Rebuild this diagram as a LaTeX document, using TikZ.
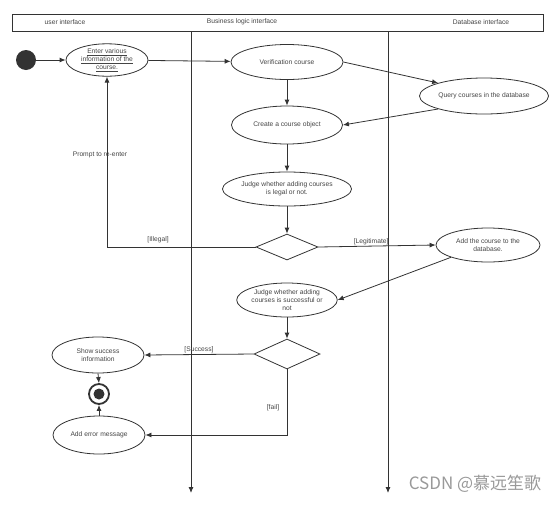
\documentclass[tikz,border=0pt]{standalone}
\usepackage{fontspec}
\setmainfont{Liberation Sans}
\newfontfamily\cjk{Noto Sans CJK SC}
\usetikzlibrary{shapes.geometric,arrows.meta}
\definecolor{ln}{HTML}{333333}
\definecolor{tx}{HTML}{444444}
\begin{document}
\begin{tikzpicture}[x=1pt,y=-1pt,
  every node/.style={font=\fontsize{6.7}{8}\selectfont, text=tx},
  act/.style={draw=ln, line width=0.8pt, ellipse, inner sep=0pt, align=center},
  dec/.style={draw=ln, line width=0.8pt, diamond, inner sep=0pt},
  arr/.style={draw=ln, line width=0.8pt, -{Latex[length=6pt,width=5pt]}},
  lane/.style={draw=ln, line width=0.9pt, -{Latex[length=6pt,width=5pt]}},
  lbl/.style={inner sep=1pt}]
\useasboundingbox (0,0) rectangle (554,504);
% header
\node[draw=ln, line width=1pt, minimum width=531pt, minimum height=17pt, inner sep=0pt, anchor=north west] (hdr) at (12,14) {};
\node (h1) at (65,22) {user interface};
\node (h2) at (242,22) {Business logic interface};
\node (h3) at (481,22) {Database interface};
\coordinate (l1t) at (191,31); \coordinate (l1b) at (191,493);
\coordinate (l2t) at (388,31); \coordinate (l2b) at (388,493);
\draw[lane] (l1t) -- (l1b);
\draw[lane] (l2t) -- (l2b);
% nodes
\node[circle, fill=ln, minimum size=20pt, inner sep=0pt] (start) at (26,60) {};
\node[act, minimum width=82pt, minimum height=31pt] (enter) at (107,60) {\underline{Enter various}\\\underline{information of the}\\\underline{course.}};
\node[act, minimum width=112pt, minimum height=35pt] (ver) at (287,62) {Verification course};
\node[act, minimum width=108pt, minimum height=36pt] (query) at (484,96) {Query courses in the database};
\node[act, minimum width=111pt, minimum height=38pt] (create) at (287,125) {Create a course object};
\node[act, minimum width=113pt, minimum height=34pt] (judge1) at (287,189) {Judge whether adding courses\\is legal or not.};
\node[dec, minimum width=62pt, minimum height=26pt] (d1) at (287,247) {};
\node[act, minimum width=104pt, minimum height=34pt] (add) at (488,245) {Add the course to the\\database.};
\node[act, minimum width=98pt, minimum height=34pt] (judge2) at (287,300) {Judge whether adding\\courses is successful or\\not};
\node[dec, minimum width=66pt, minimum height=30pt] (d2) at (287,354) {};
\node[act, minimum width=92pt, minimum height=36pt] (succ) at (98,355) {Show success\\information};
\node[circle, draw=ln, line width=1.8pt, minimum size=20pt, inner sep=0pt] (end) at (99,394) {};
\node[circle, fill=ln, minimum size=11pt, inner sep=0pt] (endin) at (99,394) {};
\node[act, minimum width=92pt, minimum height=38pt] (err) at (99,435) {Add error message};
% connectors
\draw[arr] (start) -- (enter);
\draw[arr] (enter) -- (ver);
\draw[arr] (ver.east) -- (query.north west);
\draw[arr] (ver) -- (create);
\draw[arr] (query.south west) -- (create.east);
\draw[arr] (create) -- (judge1);
\draw[arr] (judge1) -- (d1);
\draw[arr] (d1.east) -- node[lbl, above, pos=0.45] {[Legitimate]} (add.west);
\draw[arr] (d1.west) -| (enter.south);
\node[lbl] (illegal) at (158,240) {[Illegal]};
\node[lbl] (prompt) at (100,155) {Prompt to re-enter};
\draw[arr] (add.south west) -- (judge2.east);
\draw[arr] (judge2) -- (d2);
\draw[arr] (d2.west) -- node[lbl, above, pos=0.5] {[Success]} (succ.east);
\draw[arr] (d2.south) |- (err.east);
\node[lbl] (fail) at (273,408) {[fail]};
\draw[arr] (succ.south) -- (end.north);
\draw[arr] (err.north) -- (end.south);
% watermark
\node[text=black!40, font=\cjk\fontsize{17}{19}\selectfont] (wm) at (475,484) {CSDN @慕远笙歌};
\end{tikzpicture}
\end{document}
